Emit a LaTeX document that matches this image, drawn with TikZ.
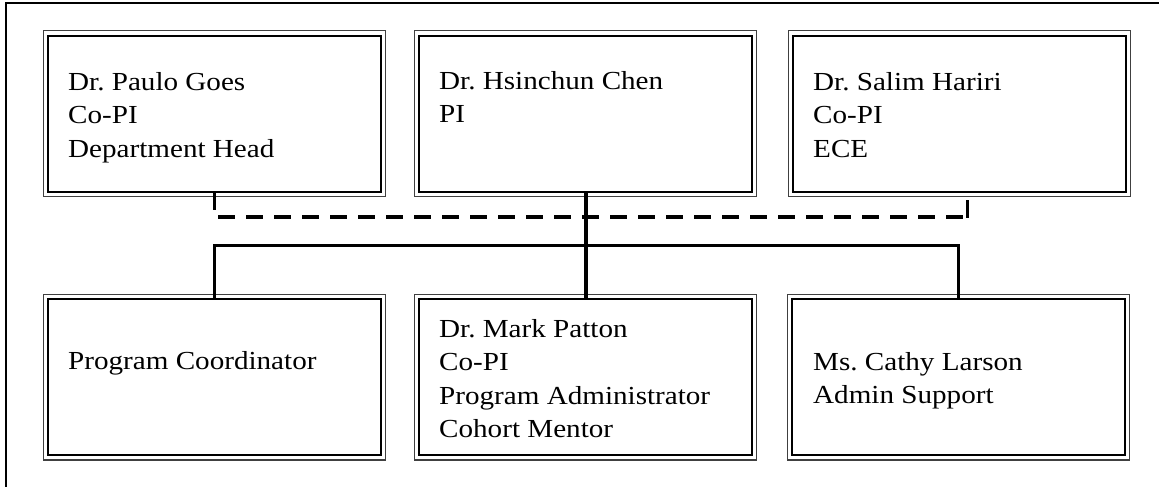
\documentclass[tikz,border=0pt]{standalone}
\usepackage{fontspec}
\setmainfont[FakeStretch=1.12]{Liberation Serif}
\tikzset{
  orgbox/.style={draw=black, line width=2pt, minimum width=333pt, minimum height=156pt, inner sep=0pt},
  outerline/.style={draw=black!75, line width=1.2pt},
  boxtext/.style={anchor=north west, align=left, inner sep=0pt, font=\fontsize{26}{33.3}\selectfont\frenchspacing},
  solidcon/.style={line width=3pt},
  maincon/.style={line width=4pt},
  dashcon/.style={line width=4pt, dash pattern=on 17pt off 11pt},
}
\begin{document}
\begin{tikzpicture}[x=1pt,y=-1pt]
\useasboundingbox (0,0) rectangle (1159,487);
\draw[line width=2pt] (6,487) -- (6,3) -- (1159,3);
% boxes
\node[orgbox] (tl) at (214.5,113.6) {};
\node[orgbox] (tm) at (585.5,113.6) {};
\node[orgbox] (tr) at (959.3,113.6) {};
\node[orgbox] (bl) at (214.5,377.3) {};
\node[orgbox] (bm) at (585.5,377.3) {};
\node[orgbox] (br) at (958.5,377.3) {};
\foreach \n in {tl,tm,tr,bl,bm,br}
  \draw[outerline] ([shift={(-3.7pt,3.7pt)}]\n.north west) rectangle ([shift={(3.7pt,-3.7pt)}]\n.south east);
% texts
\node[boxtext] (t1) at (68,72.2) {Dr.\ Paulo Goes\\Co-PI\\Department Head};
\node[boxtext] (t2) at (439,71.2) {Dr.\ Hsinchun Chen\\PI};
\node[boxtext] (t3) at (813,72.2) {Dr.\ Salim Hariri\\Co-PI\\ECE};
\node[boxtext] (t4) at (68,351.2) {Program Coordinator};
\node[boxtext] (t5) at (439,319.2) {Dr.\ Mark Patton\\Co-PI\\Program Administrator\\Cohort Mentor};
\node[boxtext] (t6) at (813,352.2) {Ms.\ Cathy Larson\\Admin Support};
% dashed advisory connector
\coordinate (dla) at (214.5,210);
\coordinate (dlb) at (218,217);
\coordinate (drb) at (963,217);
\coordinate (dra) at (967,200);
\coordinate (drc) at (967,218);
\draw[solidcon] (tl.south) -- (dla);
\draw[dashcon] (dlb) -- (drb);
\draw[solidcon] (dra) -- (drc);
% solid reporting connectors
\coordinate (hl) at (214.5,245);
\coordinate (hr) at (958.5,245);
\draw[maincon] (tm.south) -- (bm.north);
\draw[solidcon] (bl.north) -- (hl) -- (hr) -- (br.north);
\end{tikzpicture}
\end{document}
